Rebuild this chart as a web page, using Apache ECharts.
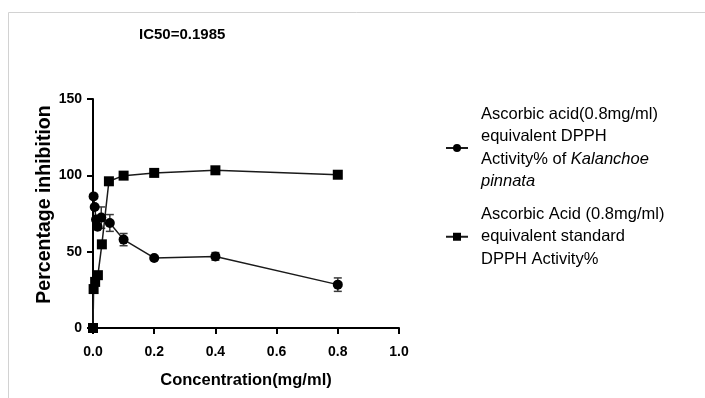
<!DOCTYPE html>
<html>
<head>
<meta charset="utf-8">
<script src="https://cdn.jsdelivr.net/npm/echarts@6/dist/echarts.min.js"></script>
<style>
  html, body { margin: 0; padding: 0; background: #fff; }
  #chart { width: 705px; height: 398px; }
</style>
</head>
<body>
<div id="chart"></div>
<script>
// values
const xTicks = [0, 0.2, 0.4, 0.6, 0.8, 1.0];
const yTicks = [0, 50, 100, 150];

const extractConc = [0.002, 0.0055, 0.01, 0.015, 0.027, 0.055, 0.1, 0.2, 0.4, 0.8];
const extractInhib = [86.2, 79.3, 71.0, 66.3, 72.3, 68.8, 57.9, 45.9, 46.9, 28.4];
const extractErr = [0, 0, 0, 0, 7, 5.5, 4, 1, 2.5, 4.4];

const standardConc = [0, 0.002, 0.007, 0.016, 0.029, 0.052, 0.1, 0.2, 0.4, 0.8];
const standardInhib = [0, 25.5, 30.2, 34.6, 54.8, 96.1, 99.8, 101.6, 103.3, 100.4];

const FONT = '"Liberation Sans", Arial, sans-serif';

const chart = echarts.init(document.getElementById('chart'));

const extractData = extractConc.map((x, i) => [x, extractInhib[i]]);
const standardData = standardConc.map((x, i) => [x, standardInhib[i]]);
const errData = extractConc.map((x, i) => [x, extractInhib[i], extractErr[i]]).filter(d => d[2] > 0);

function renderErr(params, api) {
  const x = api.value(0), y = api.value(1), e = api.value(2);
  const top = api.coord([x, y + e]);
  const bot = api.coord([x, y - e]);
  const cap = 4;
  const style = { stroke: '#3a3a3a', lineWidth: 1.5 };
  return {
    type: 'group',
    children: [
      { type: 'line', shape: { x1: top[0], y1: top[1], x2: bot[0], y2: bot[1] }, style },
      { type: 'line', shape: { x1: top[0] - cap, y1: top[1], x2: top[0] + cap, y2: top[1] }, style },
      { type: 'line', shape: { x1: bot[0] - cap, y1: bot[1], x2: bot[0] + cap, y2: bot[1] }, style }
    ]
  };
}

const axisCommon = {
  axisLine: { show: true, onZero: false, lineStyle: { color: '#000', width: 2 } },
  axisTick: { show: true, inside: false, length: 6, lineStyle: { color: '#000', width: 2 } },
  splitLine: { show: false }
};

chart.setOption({
  animation: false,
  backgroundColor: '#fff',
  title: {
    text: 'IC50=0.1985',
    left: 139,
    top: 27,
    padding: 0,
    textStyle: { fontFamily: FONT, fontWeight: 'bold', fontSize: 15, color: '#000' }
  },
  graphic: [{
    type: 'polyline',
    shape: { points: [[8.5, 398], [8.5, 12.5], [705, 12.5]] },
    style: { stroke: '#d2d2d2', lineWidth: 1, fill: null },
    silent: true
  }],
  grid: { left: 93, right: 306, top: 99, bottom: 70 },
  legend: {
    orient: 'vertical',
    left: 445,
    top: 103,
    padding: 0,
    itemGap: 10,
    itemWidth: 22,
    itemHeight: 10,
    data: ['extract', 'standard'],
    formatter: name => name === 'extract'
      ? 'Ascorbic acid(0.8mg/ml)\nequivalent DPPH\nActivity% of {i|Kalanchoe}\n{i|pinnata}'
      : 'Ascorbic Acid (0.8mg/ml)\nequivalent standard\nDPPH Activity%',
    textStyle: {
      fontFamily: FONT, fontSize: 16.5, lineHeight: 22.5, color: '#000',
      padding: [0, 0, 0, 8],
      rich: { i: { fontFamily: FONT, fontStyle: 'italic', fontSize: 16.5, lineHeight: 22.5, color: '#000' } }
    }
  },
  xAxis: Object.assign({}, axisCommon, {
    type: 'value',
    min: xTicks[0],
    max: xTicks[xTicks.length - 1],
    interval: 0.2,
    name: 'Concentration(mg/ml)',
    nameLocation: 'middle',
    nameGap: 44,
    nameTextStyle: { fontFamily: FONT, fontWeight: 'bold', fontSize: 16.5, color: '#000' },
    axisLabel: {
      margin: 17, color: '#000', fontFamily: FONT, fontWeight: 'bold', fontSize: 14,
      formatter: v => v.toFixed(1)
    }
  }),
  yAxis: Object.assign({}, axisCommon, {
    type: 'value',
    min: yTicks[0],
    max: yTicks[yTicks.length - 1],
    interval: 50,
    name: 'Percentage inhibition',
    nameLocation: 'middle',
    nameGap: 38,
    nameRotate: 90,
    nameTextStyle: { fontFamily: FONT, fontWeight: 'bold', fontSize: 19.5, color: '#000', padding: [0, 0, 0, 18] },
    axisLabel: { margin: 11, color: '#000', fontFamily: FONT, fontWeight: 'bold', fontSize: 14 }
  }),
  series: [
    {
      type: 'custom',
      name: 'err',
      renderItem: renderErr,
      data: errData,
      z: 1,
      silent: true
    },
    {
      name: 'extract',
      type: 'line',
      data: extractData,
      symbol: 'circle',
      symbolSize: 10,
      showAllSymbol: true,
      itemStyle: { color: '#000' },
      lineStyle: { color: '#1a1a1a', width: 1.5 },
      z: 3
    },
    {
      name: 'standard',
      type: 'line',
      data: standardData,
      symbol: 'rect',
      symbolSize: 10,
      showAllSymbol: true,
      itemStyle: { color: '#000' },
      lineStyle: { color: '#1a1a1a', width: 1.5 },
      z: 3
    }
  ]
});
</script>
</body>
</html>
